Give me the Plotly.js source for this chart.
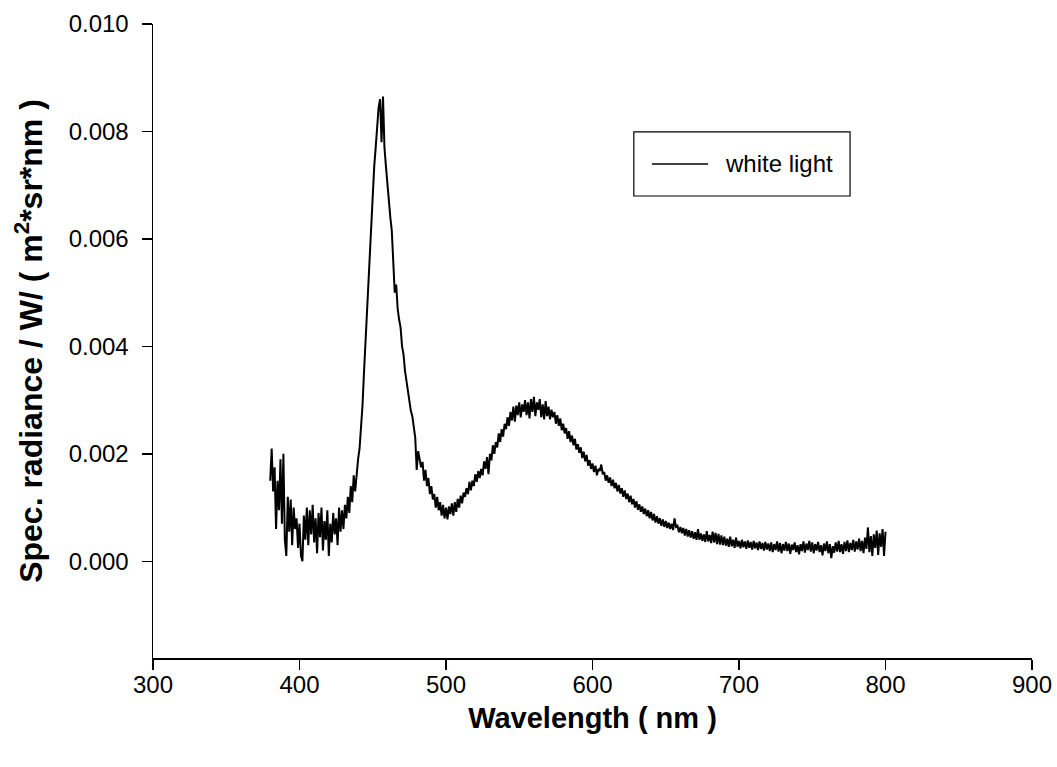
<!DOCTYPE html>
<html>
<head>
<meta charset="utf-8">
<script src="https://cdn.plot.ly/plotly-3.0.1.min.js"></script>
<style>html,body{margin:0;padding:0;background:#fff;}#chart{width:1057px;height:767px;}</style>
</head>
<body>
<div id="chart"></div>
<script>
// Wavelength (nm)
const wavelength = [
380,381,382,383,384,385,386,387,388,389,390,391,392,393,394,395,396,397,398,399,
400,401,402,403,404,405,406,407,408,409,410,411,412,413,414,415,416,417,418,419,
420,421,422,423,424,425,426,427,428,429,430,431,432,433,434,435,436,437,438,439,
440,441,442,443,444,445,446,447,448,449,450,451,452,453,454,455,456,457,458,459,
460,461,462,463,464,465,466,467,468,469,470,471,472,473,474,475,476,477,478,479,
480,481,482,483,484,485,486,487,488,489,490,491,492,493,494,495,496,497,498,499,
500,501,502,503,504,505,506,507,508,509,510,511,512,513,514,515,516,517,518,519,
520,521,522,523,524,525,526,527,528,529,530,531,532,533,534,535,536,537,538,539,
540,541,542,543,544,545,546,547,548,549,550,551,552,553,554,555,556,557,558,559,
560,561,562,563,564,565,566,567,568,569,570,571,572,573,574,575,576,577,578,579,
580,581,582,583,584,585,586,587,588,589,590,591,592,593,594,595,596,597,598,599,
600,601,602,603,604,605,606,607,608,609,610,611,612,613,614,615,616,617,618,619,
620,621,622,623,624,625,626,627,628,629,630,631,632,633,634,635,636,637,638,639,
640,641,642,643,644,645,646,647,648,649,650,651,652,653,654,655,656,657,658,659,
660,661,662,663,664,665,666,667,668,669,670,671,672,673,674,675,676,677,678,679,
680,681,682,683,684,685,686,687,688,689,690,691,692,693,694,695,696,697,698,699,
700,701,702,703,704,705,706,707,708,709,710,711,712,713,714,715,716,717,718,719,
720,721,722,723,724,725,726,727,728,729,730,731,732,733,734,735,736,737,738,739,
740,741,742,743,744,745,746,747,748,749,750,751,752,753,754,755,756,757,758,759,
760,761,762,763,764,765,766,767,768,769,770,771,772,773,774,775,776,777,778,779,
780,781,782,783,784,785,786,787,788,789,790,791,792,793,794,795,796,797,798,799,
800];

// Spectral radiance, W/(m^2*sr*nm)
const radiance = [
0.00150,0.00210,0.00130,0.00175,0.00060,0.00150,0.00095,0.00190,0.00070,0.00200,
0.00040,0.00010,0.00120,0.00055,0.00115,0.00030,0.00100,0.00060,0.00080,0.00025,
0.00070,0.00010,0.00000,0.00085,0.00040,0.00100,0.00030,0.00095,0.00050,0.00105,
0.00035,0.00080,0.00015,0.00090,0.00045,0.00100,0.00020,0.00075,0.00040,0.00095,
0.00010,0.00070,0.00035,0.00090,0.00050,0.00080,0.00030,0.00100,0.00055,0.00095,
0.00060,0.00105,0.00080,0.00120,0.00090,0.00140,0.00110,0.00160,0.00130,0.00170,
0.00190,0.00210,0.00245,0.00290,0.00350,0.00405,0.00470,0.00525,0.00590,0.00635,
0.00690,0.00735,0.00770,0.00815,0.00845,0.00860,0.00780,0.00865,0.00770,0.00735,
0.00700,0.00675,0.00640,0.00615,0.00560,0.00500,0.00515,0.00470,0.00450,0.00435,
0.00400,0.00385,0.00355,0.00335,0.00310,0.00300,0.00280,0.00270,0.00250,0.00230,
0.00170,0.00205,0.00190,0.00175,0.00185,0.00150,0.00170,0.00140,0.00155,0.00125,
0.00140,0.00115,0.00125,0.00100,0.00120,0.00095,0.00110,0.00085,0.00105,0.00080,
0.00100,0.00078,0.00102,0.00088,0.00108,0.00085,0.00110,0.00092,0.00116,0.00100,
0.00122,0.00108,0.00128,0.00120,0.00136,0.00125,0.00148,0.00132,0.00150,0.00140,
0.00162,0.00148,0.00168,0.00155,0.00172,0.00160,0.00186,0.00172,0.00194,0.00162,
0.00200,0.00188,0.00216,0.00200,0.00222,0.00212,0.00238,0.00222,0.00246,0.00232,
0.00256,0.00246,0.00268,0.00252,0.00278,0.00262,0.00288,0.00260,0.00290,0.00272,
0.00296,0.00268,0.00292,0.00278,0.00300,0.00272,0.00296,0.00266,0.00302,0.00278,
0.00306,0.00270,0.00296,0.00282,0.00302,0.00268,0.00292,0.00264,0.00298,0.00270,
0.00288,0.00264,0.00282,0.00268,0.00278,0.00256,0.00272,0.00252,0.00266,0.00244,
0.00256,0.00238,0.00248,0.00228,0.00242,0.00222,0.00234,0.00216,0.00228,0.00208,
0.00218,0.00202,0.00212,0.00192,0.00204,0.00186,0.00198,0.00178,0.00188,0.00172,
0.00182,0.00166,0.00178,0.00160,0.00172,0.00168,0.00180,0.00162,0.00166,0.00150,
0.00160,0.00146,0.00156,0.00140,0.00152,0.00136,0.00146,0.00130,0.00142,0.00126,
0.00136,0.00120,0.00132,0.00116,0.00126,0.00110,0.00122,0.00106,0.00116,0.00100,
0.00112,0.00096,0.00106,0.00092,0.00102,0.00088,0.00098,0.00084,0.00095,0.00080,
0.00092,0.00076,0.00088,0.00072,0.00084,0.00070,0.00080,0.00066,0.00078,0.00064,
0.00075,0.00062,0.00072,0.00060,0.00070,0.00058,0.00080,0.00064,0.00066,0.00054,
0.00064,0.00052,0.00062,0.00048,0.00060,0.00046,0.00058,0.00044,0.00056,0.00042,
0.00054,0.00040,0.00060,0.00040,0.00052,0.00038,0.00050,0.00036,0.00056,0.00037,
0.00049,0.00034,0.00055,0.00035,0.00053,0.00032,0.00051,0.00031,0.00048,0.00030,
0.00046,0.00029,0.00042,0.00027,0.00046,0.00028,0.00040,0.00025,0.00044,0.00027,
0.00038,0.00024,0.00040,0.00026,0.00037,0.00023,0.00039,0.00025,0.00036,0.00022,
0.00038,0.00024,0.00035,0.00021,0.00037,0.00023,0.00034,0.00020,0.00036,0.00022,
0.00033,0.00019,0.00035,0.00017,0.00032,0.00021,0.00037,0.00018,0.00034,0.00015,
0.00032,0.00020,0.00036,0.00019,0.00033,0.00014,0.00031,0.00021,0.00035,0.00017,
0.00030,0.00013,0.00032,0.00019,0.00037,0.00016,0.00033,0.00021,0.00038,0.00018,
0.00035,0.00015,0.00032,0.00020,0.00036,0.00017,0.00030,0.00011,0.00033,0.00019,
0.00037,0.00015,0.00032,0.00006,0.00028,0.00016,0.00035,0.00018,0.00038,0.00017,
0.00032,0.00014,0.00036,0.00019,0.00039,0.00017,0.00034,0.00021,0.00040,0.00018,
0.00037,0.00022,0.00042,0.00019,0.00038,0.00015,0.00044,0.00023,0.00063,0.00017,
0.00047,0.00010,0.00050,0.00025,0.00057,0.00012,0.00052,0.00027,0.00060,0.00010,
0.00055];

const seriesName = "white light";
const xTicks = [300, 400, 500, 600, 700, 800, 900];
const yTicks = [0.000, 0.002, 0.004, 0.006, 0.008, 0.010];

const FONT = "Liberation Sans, Arial, sans-serif";

const trace = {
  x: wavelength,
  y: radiance,
  type: "scatter",
  mode: "lines",
  name: seriesName,
  line: {color: "#000000", width: 2},
  showlegend: false
};

const layout = {
  width: 1057,
  height: 767,
  margin: {l: 153, r: 25, t: 24, b: 109},
  paper_bgcolor: "#ffffff",
  plot_bgcolor: "#ffffff",
  font: {family: FONT, color: "#000000"},
  showlegend: false,
  xaxis: {
    range: [300, 900],
    tickvals: xTicks,
    ticks: "outside",
    ticklen: 10,
    tickwidth: 1.5,
    tickcolor: "#000",
    showline: true,
    linecolor: "#000",
    linewidth: 1.5,
    showgrid: false,
    zeroline: false,
    ticklabelstandoff: -5,
    tickfont: {family: FONT, size: 24, color: "#000"},
    title: {text: "Wavelength ( nm )", font: {family: FONT, size: 29, color: "#000", weight: "bold"}, standoff: 10},
    automargin: false
  },
  yaxis: {
    range: [-0.0018, 0.010],
    tickvals: yTicks,
    tickformat: ".3f",
    ticks: "outside",
    ticklen: 10,
    tickwidth: 1.5,
    tickcolor: "#000",
    showline: true,
    linecolor: "#000",
    linewidth: 1.5,
    showgrid: false,
    zeroline: false,
    ticklabelstandoff: 8,
    tickfont: {family: FONT, size: 24, color: "#000"},
    title: {text: "Spec. radiance / W/ ( m<sup>2</sup>*sr*nm )", font: {family: FONT, size: 32, color: "#000", weight: "bold"}, standoff: 16},
    automargin: false
  },
  shapes: [
    {type: "rect", xref: "paper", yref: "paper", x0: 0.547, x1: 0.793, y0: 0.7287, y1: 0.8297,
     line: {color: "#000", width: 1.2}, fillcolor: "rgba(0,0,0,0)"},
    {type: "line", xref: "paper", yref: "paper", x0: 0.5677, x1: 0.6314, y0: 0.7792, y1: 0.7792,
     line: {color: "#000", width: 1.5}}
  ],
  annotations: [
    {xref: "paper", yref: "paper", x: 0.6485, y: 0.7792, xanchor: "left", yanchor: "middle",
     text: seriesName, showarrow: false, font: {family: FONT, size: 24, color: "#000"}}
  ]
};

Plotly.newPlot("chart", [trace], layout, {displayModeBar: false, staticPlot: true});
</script>
</body>
</html>
